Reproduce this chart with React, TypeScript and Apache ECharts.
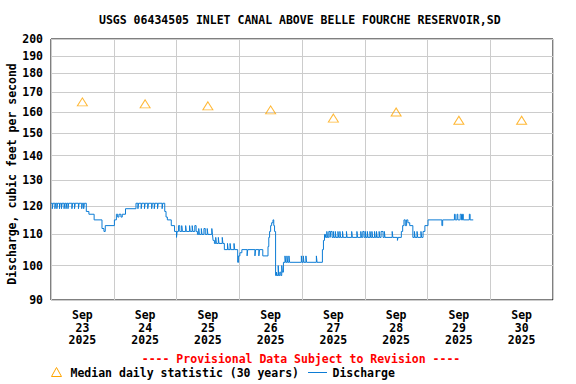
import React, { useEffect, useRef } from 'react';
import * as echarts from 'echarts';

const TITLE = 'USGS 06434505 INLET CANAL ABOVE BELLE FOURCHE RESERVOIR,SD';
const Y_NAME = 'Discharge, cubic feet per second';
const PROVISIONAL = '---- Provisional Data Subject to Revision ----';
const MEDIAN_NAME = 'Median daily statistic (30 years)';
const DISCHARGE_NAME = 'Discharge';

const Y_TICKS = [90, 100, 110, 120, 130, 140, 150, 160, 170, 180, 190, 200];
const MONTH = 'Sep';
const YEAR = '2025';
const DAYS = ['23', '24', '25', '26', '27', '28', '29', '30'];
// hours since Sep 23 2025 00:00
const LABEL_HOURS = [12, 36, 60, 84, 108, 132, 156, 180];

const MEDIAN_HOURS = [12, 36, 60, 84, 108, 132, 156, 180];
const MEDIAN_VALUES = [165, 164, 163, 161, 157, 160, 156, 156];

// [hours since Sep 23 00:00, discharge cfs] — value holds until next point
const DISCHARGE_STEPS: [number, number][] = [
  [0, 121], [0.5, 119], [0.75, 121], [1.5, 119], [1.75, 121], [2.25, 119], [2.5, 121], [3.25, 119], [3.5, 121],
  [4, 119], [4.25, 121], [5, 119], [5.25, 121], [5.75, 119], [6, 121], [6.5, 119], [6.75, 121], [8, 119],
  [8.25, 121], [9, 119], [9.25, 121], [10.5, 119], [10.75, 121], [11.75, 119], [12, 121], [12.5, 119], [12.75, 121],
  [13.5, 118], [14.5, 117], [16.5, 115], [19.5, 112], [20.25, 111], [20.75, 113],
  [24.25, 115], [25, 117], [25.5, 116], [26, 117], [26.75, 116], [27.25, 117], [28.5, 119],
  [32.5, 121], [33.25, 119], [33.5, 121], [34.5, 119], [34.75, 121], [35.75, 119], [36, 121], [37, 119], [37.25, 121],
  [38.5, 119], [38.75, 121], [39.5, 119], [39.75, 121], [40.75, 119], [41, 121], [42.5, 119], [42.75, 121],
  [43.5, 118], [44, 116], [44.5, 115], [46, 113], [47.25, 111], [48, 109], [48.25, 111], [48.75, 113], [49.25, 111],
  [50, 113], [50.25, 111], [51.5, 113], [51.75, 111], [53, 113], [53.25, 111], [54, 113], [54.25, 111], [55, 113], [55.5, 111],
  [56, 110], [56.5, 112], [56.75, 110], [57.5, 112], [57.75, 110], [58.5, 112], [59, 110], [59.75, 112], [60, 110],
  [61.5, 112], [61.75, 110],
  [62, 108], [62.5, 107], [63, 109], [63.25, 107], [64, 109], [64.25, 107], [65.5, 109], [65.75, 107],
  [66.3, 105], [67.5, 107], [67.75, 105], [68.5, 107], [68.75, 105], [70, 107], [70.25, 105],
  [71.4, 101], [71.75, 103], [72.25, 104], [73, 105], [75, 103], [75.25, 105], [78, 103], [78.25, 105], [79.5, 103],
  [79.75, 105], [81, 103],
  [83, 106], [83.3, 109], [83.6, 111], [84, 113], [84.4, 114], [84.9, 115], [85.2, 113], [85.5, 111],
  [85.9, 97], [86.25, 98], [86.5, 97], [86.9, 100], [87.1, 97], [87.5, 98], [87.9, 97], [88.25, 100], [88.5, 98],
  [88.9, 101], [89.5, 103], [89.75, 101], [90.25, 103], [90.5, 101], [91, 103], [91.25, 101], [95.75, 103], [96, 101],
  [96.5, 103], [96.75, 101], [97.5, 103], [97.75, 101], [101.5, 103], [101.75, 101],
  [103.8, 105], [104.2, 108], [104.6, 110], [105, 109], [105.5, 111], [105.75, 109], [106.25, 111], [106.75, 109],
  [107, 111], [107.5, 109], [108, 111], [108.25, 109], [108.75, 111], [109, 109], [109.75, 111], [110, 109],
  [110.5, 111], [110.75, 109], [111.5, 111], [111.75, 109], [113, 111], [113.25, 109], [115, 111], [115.25, 109],
  [117, 111], [117.25, 109], [118.5, 111], [118.75, 109], [119.25, 111], [119.75, 109], [120.25, 111], [120.5, 109],
  [121, 111], [121.25, 109], [122, 111], [122.25, 109], [122.75, 111], [123, 109], [123.75, 111], [124, 109],
  [124.5, 111], [124.75, 109], [125.5, 111], [125.75, 109], [126.25, 111], [127, 109], [127.5, 111], [127.75, 109],
  [130.5, 111], [130.75, 109], [132.5, 108], [132.75, 109], [134, 111],
  [134.5, 113], [135, 115], [135.5, 113], [136, 115], [136.5, 114], [137.2, 113],
  [138.4, 109], [139, 111], [139.25, 109], [140, 111], [140.25, 109], [141.5, 111], [141.75, 109],
  [142.3, 111], [143, 113], [144.2, 115], [149.5, 113], [149.8, 115],
  [154.3, 117], [154.6, 115], [155.3, 117], [155.6, 115], [156.5, 117], [157, 115], [157.4, 117], [157.7, 115],
  [160, 117], [160.3, 115], [161.5, 115],
];

const FONT = 'DejaVu Sans Mono';
const LINE_COLOR = '#0C7CD5';
const MEDIAN_COLOR = '#FFA500';

export default function App() {
  const ref = useRef<HTMLDivElement>(null);

  useEffect(() => {
    if (!ref.current) return;
    const chart = echarts.init(ref.current, null, { renderer: 'svg' });
    const labelStyle = {
      fontFamily: FONT,
      fontWeight: 'bold' as const,
      fontSize: 11.5,
      color: '#000',
    };
    chart.setOption({
      animation: false,
      backgroundColor: '#fff',
      title: {
        text: TITLE,
        left: 99,
        top: 14,
        padding: 0,
        textStyle: { fontFamily: FONT, fontWeight: 'bold', fontSize: 11.5, color: '#000' },
      },
      grid: {
        left: 51,
        right: 23,
        top: 39,
        bottom: 84,
        show: true,
        borderColor: '#000',
        borderWidth: 1,
        backgroundColor: 'transparent',
      },
      xAxis: {
        type: 'value',
        min: 0,
        max: 192,
        interval: 24,
        axisLine: { show: false },
        axisTick: { show: false },
        splitLine: { show: true, lineStyle: { color: '#cccccc', width: 1 } },
        axisLabel: {
          ...labelStyle,
          customValues: LABEL_HOURS,
          margin: 9,
          lineHeight: 12.5,
          formatter: (v: number) => {
            const i = LABEL_HOURS.indexOf(v);
            return i >= 0 ? `${MONTH}\n${DAYS[i]}\n${YEAR}` : '';
          },
        },
      },
      yAxis: {
        type: 'log',
        min: 90,
        max: 200,
        axisLine: { show: false },
        axisTick: { show: false, customValues: Y_TICKS },
        splitLine: { show: true, lineStyle: { color: '#cccccc', width: 1 } },
        axisLabel: { ...labelStyle, customValues: Y_TICKS, margin: 8 },
      },
      series: [
        {
          name: DISCHARGE_NAME,
          type: 'line',
          step: 'end',
          showSymbol: false,
          data: DISCHARGE_STEPS,
          lineStyle: { color: LINE_COLOR, width: 1 },
          itemStyle: { color: LINE_COLOR },
          z: 2,
        },
        {
          name: MEDIAN_NAME,
          type: 'scatter',
          symbol: 'triangle',
          symbolSize: [10, 8],
          data: MEDIAN_HOURS.map((h, i) => [h, MEDIAN_VALUES[i]]),
          itemStyle: { color: 'rgba(0,0,0,0)', borderColor: MEDIAN_COLOR, borderWidth: 1 },
          z: 3,
        },
      ],
      graphic: [
        {
          type: 'text',
          x: 11.5,
          y: 174,
          rotation: Math.PI / 2,
          style: {
            text: Y_NAME,
            align: 'center',
            verticalAlign: 'middle',
            fontFamily: FONT,
            fontWeight: 'bold',
            fontSize: 11.5,
            fill: '#000',
          },
        },
        {
          type: 'text',
          x: 301,
          y: 359,
          style: {
            text: PROVISIONAL,
            align: 'center',
            verticalAlign: 'middle',
            fontFamily: FONT,
            fontWeight: 'bold',
            fontSize: 11.5,
            fill: '#FF0000',
          },
        },
        {
          type: 'polygon',
          shape: { points: [[56.5, 367.5], [51.5, 376.5], [61.5, 376.5]] },
          style: { fill: 'none', stroke: MEDIAN_COLOR, lineWidth: 1 },
        },
        {
          type: 'text',
          x: 70.5,
          y: 372.5,
          style: {
            text: MEDIAN_NAME,
            align: 'left',
            verticalAlign: 'middle',
            fontFamily: FONT,
            fontWeight: 'bold',
            fontSize: 11.5,
            fill: '#000',
          },
        },
        {
          type: 'line',
          shape: { x1: 308, y1: 372.5, x2: 327, y2: 372.5 },
          style: { stroke: LINE_COLOR, lineWidth: 1 },
        },
        {
          type: 'text',
          x: 332.5,
          y: 372.5,
          style: {
            text: DISCHARGE_NAME,
            align: 'left',
            verticalAlign: 'middle',
            fontFamily: FONT,
            fontWeight: 'bold',
            fontSize: 11.5,
            fill: '#000',
          },
        },
      ],
    });
    return () => chart.dispose();
  }, []);

  return (
    <div
      ref={ref}
      style={{ position: 'fixed', left: 0, top: 0, width: 576, height: 384 }}
    />
  );
}
